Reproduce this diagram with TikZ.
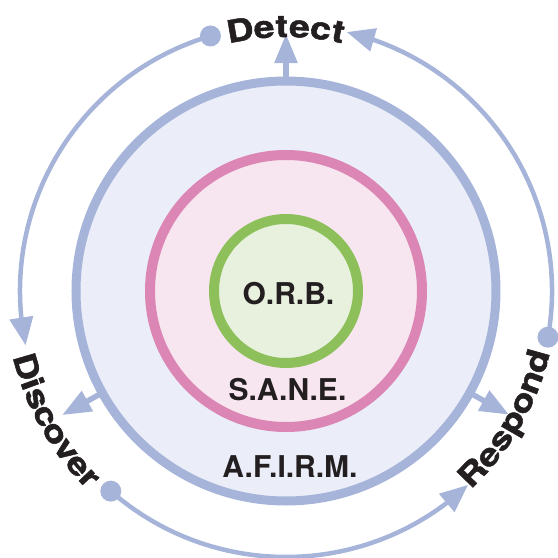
\documentclass[tikz,border=0pt]{standalone}
\usepackage{fontspec}
\setmainfont{TeX Gyre Heros}
\newfontfamily\arcfont{TeX Gyre Heros}[BoldFeatures={FakeBold=1.5}]
\usetikzlibrary{arrows.meta,bending}
\definecolor{bluering}{RGB}{166,180,218}
\definecolor{bluefill}{RGB}{235,238,248}
\definecolor{pinkring}{RGB}{219,134,180}
\definecolor{pinkfill}{RGB}{247,230,239}
\definecolor{greenring}{RGB}{141,192,90}
\definecolor{greenfill}{RGB}{232,241,222}
\definecolor{ink}{RGB}{35,31,32}
\newcommand{\wide}[1]{\scalebox{1.2}[1]{#1}}
\begin{document}
\begin{tikzpicture}[x=1pt,y=1pt,
  lbl/.style={text=ink,font=\bfseries\fontsize{30}{36}\selectfont,inner sep=0pt},
  arclbl/.style={text=ink,font=\arcfont\bfseries\fontsize{31}{36}\selectfont,inner sep=0pt,anchor=base},
  radarrow/.style={draw=bluering,line width=5.5pt,-{Triangle[length=29pt,width=22pt]}},
  cyclearrow/.style={draw=bluering,line width=4.5pt,-{Triangle[length=28pt,width=23pt]}},
  dotstyle/.style={circle,fill=bluering,minimum size=21pt,inner sep=0pt}]
\useasboundingbox (-286,-267) rectangle (272,291);
% radial arrows
\coordinate (rs1) at (90:210);  \coordinate (rt1) at (90:257);
\coordinate (rs2) at (209:210); \coordinate (rt2) at (209:256);
\coordinate (rs3) at (331:210); \coordinate (rt3) at (331:255);
\draw[radarrow] (rs1) -- (rt1);
\draw[radarrow] (rs2) -- (rt2);
\draw[radarrow] (rs3) -- (rt3);
% rings
\node[circle,draw=bluering,fill=bluefill,line width=9pt,minimum size=420pt,inner sep=0pt] (afirm) at (0,0) {};
\node[circle,draw=pinkring,fill=pinkfill,line width=10pt,minimum size=272pt,inner sep=0pt] (sane) at (0,0) {};
\node[circle,draw=greenring,fill=greenfill,line width=10pt,minimum size=144pt,inner sep=0pt] (orb) at (0,0) {};
% inner labels
\node[lbl,anchor=base] (orbtext) at (2.5,-13) {O.R.B.};
\node[lbl,anchor=base] (sanetext) at (1.5,-109) {S.A.N.E.};
\node[lbl,anchor=base] (afirmtext) at (4,-186) {A.F.I.R.M.};
% cycle arrows
\node[dotstyle] (dot1) at (106.5:266) {};
\node[dotstyle] (dot2) at (228.8:266) {};
\node[dotstyle] (dot3) at (350:266) {};
\draw[cyclearrow] (dot1.center) arc[start angle=106.5,end angle=191.8,radius=266] coordinate (tip1);
\draw[cyclearrow] (dot2.center) arc[start angle=228.8,end angle=313.2,radius=266] coordinate (tip2);
\draw[cyclearrow] (dot3.center) arc[start angle=-10,end angle=76.8,radius=266] coordinate (tip3);
% Detect
\foreach \ch/\a [count=\i] in {D/99.97,e/94.78,t/90.92,e/87.06,c/82.44,t/78.58}
  \node[arclbl,rotate=\a-90] (det\i) at (\a:254) {\wide{\ch}};
% Discover
\foreach \ch/\a [count=\i] in {D/196.3,i/200.05,s/203.28,c/207.37,o/211.63,v/215.89,e/219.98,r/223.56}
  \node[arclbl,rotate=\a+90] (dis\i) at (\a:281) {\wide{\ch}};
% Respond
\foreach \ch/\a [count=\i] in {R/-44.2,e/-39.19,s/-34.71,p/-30.06,o/-25.24,n/-20.42,d/-15.6}
  \node[arclbl,rotate=\a+90] (res\i) at (\a:271) {\wide{\ch}};
\end{tikzpicture}
\end{document}
